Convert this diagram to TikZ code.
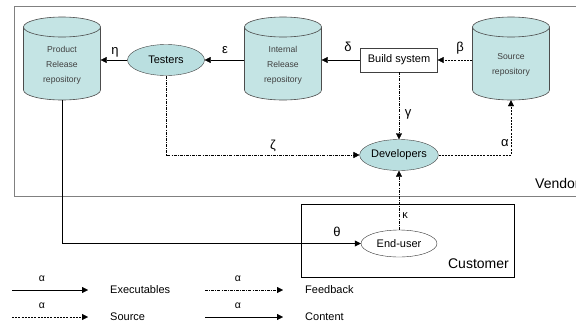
\documentclass[tikz,border=0pt]{standalone}
\usepackage{fontspec}
\setmainfont{Liberation Sans}
\usetikzlibrary{arrows.meta,shapes.geometric}
\definecolor{repofill}{HTML}{C4E4E4}
\definecolor{actorfill}{HTML}{BADFE0}
\definecolor{framegray}{HTML}{808080}
% repository drawn as a cylinder around the named box #1 (centre x = #2)
\newcommand{\drawrepo}[2]{%
  \filldraw[repoline] (#2-38.5,27) -- (#2-38.5,90)
    arc[start angle=180, end angle=360, x radius=38.5pt, y radius=10pt]
    -- (#2+38.5,27) -- cycle;
  \filldraw[repoline] (#2,27) ellipse[x radius=38.5pt, y radius=10pt];
}
\begin{document}
\begin{tikzpicture}[x=1pt,y=-1pt,
  repobox/.style={minimum width=77pt, minimum height=83pt, inner sep=0pt},
  repoline/.style={draw=black!70, fill=repofill, line width=0.6pt},
  repotext/.style={align=center, text=black!75, font=\fontsize{8.6}{15}\selectfont},
  actor/.style={ellipse, draw=black!75, fill=actorfill, minimum width=77pt,
    minimum height=31pt, inner sep=0pt, font=\fontsize{11}{12}\selectfont},
  tool/.style={draw=black!75, fill=white, minimum width=77pt, minimum height=24pt,
    inner sep=0pt, font=\fontsize{11}{12}\selectfont},
  greek/.style={font=\fontsize{13}{14}\selectfont, inner sep=0pt},
  legendgreek/.style={font=\fontsize{10.5}{11}\selectfont, inner sep=0pt},
  legendtext/.style={font=\fontsize{11}{12}\selectfont, anchor=west, inner sep=0pt},
  tip/.style={-{Triangle[length=6pt,width=6pt]}},
  content/.style={tip, black},
  source/.style={tip, black, dash pattern=on 2pt off 1.2pt},
  feedback/.style={tip, black, dash pattern=on 3pt off 1.2pt on 0.8pt off 1.2pt},
  frame/.style={draw=framegray, line width=0.8pt}]
\useasboundingbox (0,0) rectangle (576,327);
\clip (0,0) rectangle (576,327);

% organisational boundaries
\draw[frame] (14,6) rectangle (600,196);
\node[font=\fontsize{14}{16}\selectfont, anchor=west, inner sep=0pt] (vendor) at (535,183) {Vendor};
\node[draw=black, minimum width=213pt, minimum height=73pt, inner sep=0pt] (customerbox) at (407.5,240.5) {};
\node[font=\fontsize{14}{16}\selectfont, anchor=east, inner sep=0pt] (customer) at (509,264) {Customer};

% repositories
\drawrepo{prod}{62}
\node[repobox] (prod) at (62,58.5) {};
\node[repotext] (prodtext) at (62,65) {Product\\Release\\repository};
\drawrepo{internal}{283}
\node[repobox] (internal) at (283,58.5) {};
\node[repotext] (internaltext) at (283,65) {Internal\\Release\\repository};
\drawrepo{src}{511}
\node[repobox] (src) at (511,58.5) {};
\node[repotext] (srctext) at (511,65) {Source\\repository};

% actors and tools
\node[actor] (testers) at (166,60) {Testers};
\node[tool] (build) at (399,60) {Build system};
\node[actor] (dev) at (399,155) {Developers};
\node[ellipse, draw=black!80, fill=white, minimum width=76pt, minimum height=27pt,
  inner sep=0pt, font=\fontsize{11}{12}\selectfont] (enduser) at (399,243.5) {End-user};

% flows
\draw[content] (testers.west) -- (testers.west -| prod.east);
\draw[content] (testers.east -| internal.west) -- (testers.east);
\draw[content] (build.west) -- (build.west -| internal.east);
\draw[source] (build.east -| src.west) -- (build.east);
\draw[feedback] (build.south) -- (dev.north);
\draw[feedback] (testers.south) |- (dev.west);
\draw[source] (dev.east) -| (src.south);
\draw[feedback] (enduser.north) -- (dev.south);
\draw[content] (prod.south) |- (enduser.west);

% flow labels
\node[greek] (eta) at (115,52) {η};
\node[greek] (eps) at (225,50) {ε};
\node[greek] (delta) at (348,47) {δ};
\node[greek] (beta) at (460,48) {β};
\node[greek] (gamma) at (408,114) {γ};
\node[greek] (alpha) at (505,143) {α};
\node[greek] (zeta) at (273,146) {ζ};
\node[greek] (theta) at (337,232) {θ};
\node[greek, font=\fontsize{11}{12}\selectfont] (kappa) at (405,216) {κ};

% legend
\coordinate (la) at (12,290); \coordinate (lb) at (88,290);
\coordinate (lc) at (205,290); \coordinate (ld) at (283,290);
\coordinate (le) at (12,317); \coordinate (lf) at (88,317);
\coordinate (lg) at (205,317); \coordinate (lh) at (283,317);
\draw[content] (la) -- (lb);
\draw[feedback] (lc) -- (ld);
\draw[source] (le) -- (lf);
\draw[content] (lg) -- (lh);
\node[legendgreek] (a1) at (42,279) {α};
\node[legendgreek] (a2) at (238,279) {α};
\node[legendgreek] (a3) at (42,306) {α};
\node[legendgreek] (a4) at (238,306) {α};
\node[legendtext] (exe) at (110,290) {Executables};
\node[legendtext] (fb) at (305,290) {Feedback};
\node[legendtext] (srclg) at (110,317) {Source};
\node[legendtext] (cnt) at (305,317) {Content};
\end{tikzpicture}
\end{document}
